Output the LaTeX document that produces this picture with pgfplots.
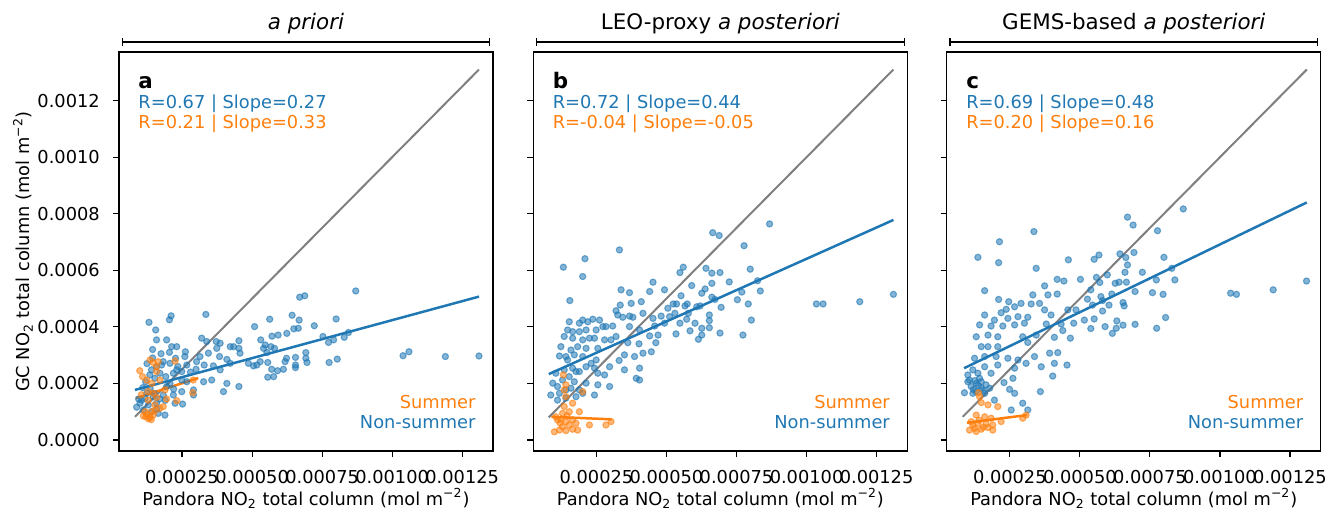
\documentclass[border=0pt]{standalone}
\usepackage{fontspec}
\setmainfont{DejaVu Sans}
\usepackage{pgfplots}
\pgfplotsset{compat=1.18}
\usetikzlibrary{arrows.meta}
\definecolor{tabblue}{HTML}{1F77B4}
\definecolor{taborange}{HTML}{FF7F0E}
\definecolor{linegray}{HTML}{808080}
\newcommand\tickfont{\fontsize{8.9bp}{10.7bp}\selectfont}
\newcommand\titlefont{\fontsize{10.7bp}{12.8bp}\selectfont}

\pgfplotsset{
  every axis title/.style={at={(0.5,1)}, anchor=base, yshift=11bp, font=\titlefont},
  panel/.style={
    scale only axis, width=187bp, height=199.5bp,
    xmin=0.25e-4, xmax=13.6e-4, ymin=-0.39e-4, ymax=13.72e-4,
    xtick={2.5e-4,5e-4,7.5e-4,10e-4,12.5e-4},
    xticklabels={0.00025,0.00050,0.00075,0.00100,0.00125},
    ytick={0,2e-4,4e-4,6e-4,8e-4,10e-4,12e-4},
    tick align=outside, major tick length=3.1bp,
    xtick pos=left, ytick pos=left,
    tick style={black, line width=0.55bp},
    axis line style={black, line width=0.55bp},
    ticklabel style={font=\tickfont, text=black},
    xticklabel style={yshift=-3bp},
    yticklabel style={xshift=-3bp},
    scaled ticks=false,
    clip=false,
  },
  nsDots/.style={only marks, mark=*, mark size=1.55bp,
    mark options={draw=tabblue, fill=tabblue, fill opacity=0.55, draw opacity=0.6, line width=0.55bp}},
  sDots/.style={only marks, mark=*, mark size=1.55bp,
    mark options={draw=taborange, fill=taborange, fill opacity=0.55, draw opacity=0.6, line width=0.55bp}},
  oneone/.style={no marks, linegray, line width=1.0bp},
  nsFit/.style={no marks, tabblue, line width=1.25bp},
  sFit/.style={no marks, taborange, line width=1.25bp},
}

\newcommand\panelextras[3]{%
  \draw[line width=0.6bp, {Bar[width=3.8bp]}-{Bar[width=3.8bp]}]
    ([yshift=5bp]rel axis cs:0.007,1) -- ([yshift=5bp]rel axis cs:0.993,1);
  \node[anchor=base west, font=\titlefont\bfseries, inner sep=0pt] at (rel axis cs:0.051,0.909) {#1};
  \node[anchor=base west, font=\tickfont, text=tabblue, inner sep=0pt] at (rel axis cs:0.051,0.859) {#2};
  \node[anchor=base west, font=\tickfont, text=taborange, inner sep=0pt] at (rel axis cs:0.051,0.809) {#3};
  \node[anchor=base east, font=\tickfont, text=taborange, inner sep=0pt] at (rel axis cs:0.954,0.107) {Summer};
  \node[anchor=base east, font=\tickfont, text=tabblue, inner sep=0pt] at (rel axis cs:0.954,0.057) {Non-summer};
  \node[anchor=base, font=\tickfont, inner sep=0pt] at ([yshift=-27bp]rel axis cs:0.5,0) {Pandora NO\textsubscript{2} total column (mol m\textsuperscript{−2})};
}

\begin{document}
\begin{tikzpicture}
\useasboundingbox (0,0) rectangle (663bp,255bp);

% ---------------- panel a ----------------
\begin{axis}[panel, at={(59.5bp,29.5bp)}, anchor=south west,
  title={\textit{a priori}},
  yticklabels={0.0000,0.0002,0.0004,0.0006,0.0008,0.0010,0.0012}]
\addplot[nsDots] coordinates {
(1.32e-4,4.16e-4) (2.05e-4,4.25e-4) (2.11e-4,4.39e-4) (3.35e-4,4.44e-4) (5.09e-4,4.01e-4)
(5.63e-4,4.27e-4) (6.43e-4,4.41e-4) (6.68e-4,4.24e-4) (6.70e-4,5.05e-4) (6.88e-4,5.10e-4)
(8.70e-4,5.27e-4) (7.22e-4,4.04e-4) (8.00e-4,4.28e-4) (6.24e-4,3.77e-4) (6.49e-4,3.93e-4)
(6.65e-4,3.95e-4) (5.71e-4,3.67e-4) (5.93e-4,3.71e-4) (5.31e-4,3.54e-4) (7.53e-4,3.66e-4)
(7.73e-4,3.45e-4) (7.91e-4,3.54e-4) (8.29e-4,3.63e-4) (8.44e-4,3.80e-4) (10.39e-4,2.98e-4)
(10.60e-4,3.12e-4) (11.90e-4,2.95e-4) (13.10e-4,2.97e-4) (8.04e-4,2.86e-4) (7.75e-4,2.74e-4)
(6.92e-4,3.09e-4) (6.92e-4,2.89e-4) (6.96e-4,2.74e-4) (6.55e-4,2.92e-4) (6.23e-4,2.89e-4)
(6.18e-4,2.77e-4) (6.55e-4,2.65e-4) (6.55e-4,2.56e-4) (6.12e-4,2.50e-4) (5.91e-4,2.45e-4)
(5.70e-4,2.50e-4) (5.56e-4,2.74e-4) (5.80e-4,3.24e-4) (5.53e-4,3.09e-4) (5.41e-4,3.24e-4)
(5.47e-4,3.36e-4) (5.67e-4,3.30e-4) (5.29e-4,2.77e-4) (5.17e-4,2.65e-4) (5.05e-4,2.62e-4)
(4.87e-4,2.71e-4) (5.77e-4,2.24e-4) (5.56e-4,2.22e-4) (4.53e-4,3.51e-4) (4.34e-4,3.30e-4)
(4.22e-4,3.30e-4) (4.57e-4,3.07e-4) (4.53e-4,3.24e-4) (3.86e-4,3.42e-4) (3.72e-4,3.48e-4)
(3.38e-4,3.48e-4) (3.20e-4,3.60e-4) (3.74e-4,3.24e-4) (3.44e-4,3.07e-4) (3.14e-4,2.95e-4)
(3.84e-4,2.95e-4) (4.10e-4,2.85e-4) (3.62e-4,2.62e-4) (3.29e-4,2.65e-4) (3.02e-4,2.77e-4)
(3.86e-4,2.48e-4) (3.56e-4,2.12e-4) (3.27e-4,2.06e-4) (3.98e-4,1.71e-4) (4.53e-4,1.89e-4)
(4.10e-4,2.00e-4) (4.22e-4,2.71e-4) (2.62e-4,3.12e-4) (2.67e-4,2.65e-4) (2.31e-4,3.30e-4)
(2.13e-4,3.30e-4) (1.95e-4,3.54e-4) (1.59e-4,3.54e-4) (1.56e-4,3.89e-4) (2.27e-4,2.89e-4)
(2.07e-4,2.71e-4) (1.83e-4,2.77e-4) (2.49e-4,2.42e-4) (2.49e-4,2.12e-4) (2.67e-4,2.06e-4)
(2.91e-4,1.77e-4) (2.49e-4,1.71e-4) (2.19e-4,1.59e-4) (2.52e-4,1.27e-4) (2.25e-4,1.30e-4)
(1.95e-4,1.89e-4) (1.83e-4,1.59e-4) (1.59e-4,1.30e-4) (1.47e-4,1.53e-4) (1.36e-4,1.83e-4)
(1.24e-4,1.65e-4) (1.06e-4,1.41e-4) (0.88e-4,1.16e-4) (1.12e-4,1.06e-4) (1.41e-4,1.00e-4)
(1.65e-4,0.94e-4) (1.89e-4,0.88e-4) (1.71e-4,2.36e-4) (1.53e-4,2.18e-4) (1.92e-4,2.24e-4)
(2.07e-4,2.00e-4) (1.20e-4,2.06e-4) (1.41e-4,2.48e-4) (1.59e-4,2.59e-4) (1.77e-4,2.65e-4)
(2.19e-4,2.36e-4) (2.31e-4,2.48e-4) (2.91e-4,1.59e-4) (1.00e-4,1.30e-4) (1.18e-4,1.47e-4)
(1.30e-4,1.24e-4) (1.50e-4,1.65e-4) (1.70e-4,1.45e-4) (1.35e-4,2.30e-4) (1.10e-4,1.85e-4)
(0.95e-4,1.45e-4) (1.25e-4,2.70e-4) (1.45e-4,3.20e-4) (1.75e-4,3.05e-4) (2.05e-4,3.10e-4)
(2.35e-4,2.60e-4) (2.80e-4,2.40e-4) (3.00e-4,2.50e-4) (2.60e-4,2.95e-4) (1.60e-4,1.10e-4)
(1.90e-4,1.40e-4) (2.20e-4,1.80e-4) (1.45e-4,2.90e-4)
};
\addplot[sDots] coordinates {
(1.36e-4,2.83e-4) (1.47e-4,2.74e-4) (1.65e-4,2.77e-4) (0.99e-4,2.45e-4) (1.09e-4,2.24e-4)
(1.24e-4,2.12e-4) (1.59e-4,2.42e-4) (1.42e-4,2.00e-4) (1.71e-4,2.12e-4) (2.25e-4,2.79e-4)
(2.90e-4,2.12e-4) (2.88e-4,1.67e-4) (2.31e-4,1.39e-4) (1.89e-4,1.77e-4) (1.47e-4,1.65e-4)
(1.29e-4,1.41e-4) (1.18e-4,1.00e-4) (1.21e-4,0.82e-4) (1.36e-4,0.80e-4) (1.47e-4,0.88e-4)
(1.71e-4,1.12e-4) (1.83e-4,1.18e-4) (1.12e-4,0.85e-4) (1.53e-4,1.24e-4) (1.42e-4,1.00e-4)
(1.59e-4,2.59e-4) (1.29e-4,1.71e-4) (1.30e-4,0.75e-4) (1.25e-4,0.90e-4) (1.40e-4,0.72e-4)
(1.55e-4,1.05e-4) (1.60e-4,1.50e-4) (1.05e-4,1.60e-4) (1.95e-4,1.45e-4)
};
\addplot[oneone] coordinates {(0.82e-4,0.82e-4) (13.10e-4,13.10e-4)};
\addplot[nsFit] coordinates {(0.82e-4,1.77e-4) (13.10e-4,5.07e-4)};
\addplot[sFit] coordinates {(0.85e-4,1.48e-4) (3.08e-4,2.19e-4)};
\panelextras{a}{R=0.67 | Slope=0.27}{R=0.21 | Slope=0.33}
\node[rotate=90, font=\tickfont, anchor=center] at ([xshift=-48bp]rel axis cs:0,0.5) {GC NO\textsubscript{2} total column (mol m\textsuperscript{−2})};
\end{axis}

% ---------------- panel b ----------------
\begin{axis}[panel, at={(266.7bp,29.5bp)}, anchor=south west,
  title={LEO-proxy \textit{a posteriori}},
  yticklabels={}]
\addplot[nsDots] coordinates {
(3.32e-4,6.72e-4) (1.32e-4,6.11e-4) (2.09e-4,6.41e-4) (2.01e-4,5.78e-4) (1.55e-4,4.93e-4)
(3.38e-4,5.31e-4) (3.68e-4,5.21e-4) (4.52e-4,5.58e-4) (4.40e-4,5.25e-4) (4.93e-4,5.31e-4)
(4.10e-4,4.89e-4) (3.74e-4,4.83e-4) (3.35e-4,4.77e-4) (3.20e-4,4.57e-4) (3.26e-4,4.42e-4)
(3.44e-4,4.34e-4) (3.68e-4,4.38e-4) (3.80e-4,4.34e-4) (4.16e-4,4.48e-4) (4.52e-4,4.30e-4)
(4.81e-4,4.38e-4) (5.05e-4,4.66e-4) (5.11e-4,4.36e-4) (4.93e-4,4.13e-4) (4.58e-4,4.03e-4)
(4.04e-4,3.89e-4) (3.68e-4,4.01e-4) (4.40e-4,3.68e-4) (4.70e-4,3.71e-4) (4.62e-4,3.44e-4)
(4.02e-4,3.40e-4) (3.62e-4,3.44e-4) (3.20e-4,3.66e-4) (3.02e-4,3.54e-4) (2.79e-4,3.54e-4)
(2.84e-4,4.01e-4) (3.08e-4,4.03e-4) (2.61e-4,4.24e-4) (2.37e-4,4.27e-4) (2.19e-4,4.18e-4)
(2.49e-4,3.89e-4) (2.73e-4,4.01e-4) (2.13e-4,3.89e-4) (1.89e-4,3.83e-4) (1.53e-4,4.18e-4)
(1.47e-4,3.89e-4) (1.35e-4,3.66e-4) (1.65e-4,3.60e-4) (2.01e-4,3.54e-4) (2.25e-4,3.60e-4)
(2.43e-4,3.60e-4) (1.83e-4,3.30e-4) (2.13e-4,3.24e-4) (2.55e-4,3.24e-4) (1.18e-4,2.97e-4)
(1.41e-4,2.95e-4) (1.71e-4,3.01e-4) (2.01e-4,2.95e-4) (2.31e-4,2.71e-4) (2.49e-4,2.83e-4)
(3.50e-4,3.01e-4) (3.86e-4,2.95e-4) (3.31e-4,2.81e-4) (4.16e-4,3.07e-4) (4.46e-4,3.12e-4)
(3.50e-4,2.48e-4) (4.04e-4,2.54e-4) (3.92e-4,2.18e-4) (4.04e-4,2.12e-4) (2.79e-4,2.30e-4)
(2.55e-4,2.36e-4) (2.97e-4,2.59e-4) (2.43e-4,2.54e-4) (2.13e-4,2.59e-4) (1.89e-4,2.42e-4)
(1.65e-4,2.54e-4) (1.35e-4,2.48e-4) (1.05e-4,2.36e-4) (0.94e-4,2.01e-4) (1.11e-4,1.89e-4)
(0.87e-4,1.59e-4) (1.18e-4,1.65e-4) (1.41e-4,1.77e-4) (1.59e-4,1.83e-4) (1.89e-4,1.77e-4)
(2.13e-4,2.01e-4) (2.55e-4,1.95e-4) (2.97e-4,1.89e-4) (2.43e-4,1.59e-4) (2.01e-4,1.65e-4)
(1.77e-4,1.53e-4) (1.41e-4,1.48e-4) (1.11e-4,1.41e-4) (1.29e-4,2.12e-4) (1.53e-4,2.24e-4)
(1.71e-4,2.06e-4) (1.77e-4,2.42e-4) (1.47e-4,2.83e-4) (1.59e-4,3.18e-4) (1.23e-4,3.30e-4)
(1.89e-4,4.13e-4) (2.01e-4,4.24e-4) (1.65e-4,3.83e-4) (8.68e-4,7.64e-4) (6.65e-4,7.33e-4)
(6.88e-4,7.23e-4) (7.77e-4,6.87e-4) (5.60e-4,6.11e-4) (5.48e-4,5.92e-4) (6.41e-4,6.07e-4)
(6.62e-4,5.90e-4) (6.91e-4,5.92e-4) (6.62e-4,5.54e-4) (7.24e-4,5.59e-4) (7.99e-4,6.04e-4)
(8.25e-4,5.63e-4) (8.35e-4,5.27e-4) (5.90e-4,5.46e-4) (6.38e-4,5.34e-4) (6.26e-4,5.19e-4)
(5.52e-4,5.10e-4) (6.62e-4,5.05e-4) (6.73e-4,4.97e-4) (7.53e-4,4.96e-4) (7.69e-4,5.23e-4)
(7.92e-4,4.81e-4) (6.95e-4,4.69e-4) (5.24e-4,4.81e-4) (5.36e-4,4.81e-4) (5.66e-4,4.74e-4)
(5.74e-4,4.81e-4) (6.08e-4,4.71e-4) (6.20e-4,4.74e-4) (5.30e-4,4.48e-4) (5.78e-4,4.48e-4)
(5.72e-4,4.27e-4) (5.48e-4,4.13e-4) (6.02e-4,4.13e-4) (6.53e-4,4.42e-4) (6.53e-4,4.22e-4)
(6.53e-4,3.97e-4) (6.26e-4,3.95e-4) (5.84e-4,3.86e-4) (5.34e-4,3.75e-4) (6.26e-4,3.71e-4)
(6.14e-4,3.56e-4) (6.91e-4,3.78e-4) (7.73e-4,3.71e-4) (8.03e-4,4.24e-4) (10.35e-4,4.81e-4)
(10.59e-4,4.81e-4) (11.90e-4,4.89e-4) (13.10e-4,5.15e-4)
};
\addplot[sDots] coordinates {
(1.32e-4,2.30e-4) (1.41e-4,1.95e-4) (1.35e-4,1.77e-4) (1.41e-4,1.53e-4) (2.01e-4,1.71e-4)
(1.65e-4,1.30e-4) (1.35e-4,1.18e-4) (1.29e-4,0.94e-4) (1.53e-4,1.00e-4) (1.89e-4,1.00e-4)
(1.05e-4,0.82e-4) (1.23e-4,0.73e-4) (1.41e-4,0.65e-4) (1.65e-4,0.71e-4) (2.25e-4,0.53e-4)
(3.02e-4,0.65e-4) (2.84e-4,0.53e-4) (1.00e-4,0.29e-4) (1.18e-4,0.35e-4) (1.41e-4,0.33e-4)
(1.65e-4,0.38e-4) (1.83e-4,0.35e-4) (1.53e-4,0.53e-4) (1.77e-4,0.59e-4) (1.11e-4,0.71e-4)
(1.29e-4,0.47e-4) (1.45e-4,0.85e-4) (1.20e-4,0.60e-4)
};
\addplot[oneone] coordinates {(0.80e-4,0.80e-4) (13.10e-4,13.10e-4)};
\addplot[nsFit] coordinates {(0.80e-4,2.33e-4) (13.10e-4,7.78e-4)};
\addplot[sFit] coordinates {(0.89e-4,0.82e-4) (3.04e-4,0.73e-4)};
\panelextras{b}{R=0.72 | Slope=0.44}{R=-0.04 | Slope=-0.05}
\end{axis}

% ---------------- panel c ----------------
\begin{axis}[panel, at={(473.4bp,29.5bp)}, anchor=south west,
  title={GEMS-based \textit{a posteriori}},
  yticklabels={}]
\addplot[nsDots] coordinates {
(3.36e-4,7.37e-4) (2.13e-4,7.01e-4) (1.36e-4,6.46e-4) (2.10e-4,6.27e-4) (3.44e-4,6.07e-4)
(4.59e-4,6.37e-4) (1.60e-4,5.28e-4) (4.19e-4,5.68e-4) (4.43e-4,5.62e-4) (5.02e-4,5.68e-4)
(3.74e-4,5.45e-4) (3.32e-4,5.13e-4) (3.86e-4,5.13e-4) (4.19e-4,5.16e-4) (2.10e-4,4.97e-4)
(2.46e-4,4.89e-4) (2.90e-4,4.83e-4) (3.26e-4,4.81e-4) (3.56e-4,4.83e-4) (2.67e-4,4.71e-4)
(2.37e-4,4.62e-4) (2.19e-4,4.50e-4) (3.74e-4,4.60e-4) (4.57e-4,4.60e-4) (4.86e-4,4.60e-4)
(3.97e-4,4.42e-4) (3.14e-4,4.34e-4) (2.79e-4,4.36e-4) (2.43e-4,4.30e-4) (1.95e-4,4.24e-4)
(1.60e-4,4.42e-4) (1.42e-4,4.07e-4) (1.83e-4,4.03e-4) (2.25e-4,4.03e-4) (2.67e-4,4.07e-4)
(3.02e-4,4.13e-4) (3.80e-4,4.10e-4) (4.33e-4,4.10e-4) (4.78e-4,4.13e-4) (5.16e-4,4.24e-4)
(4.39e-4,3.87e-4) (4.66e-4,3.60e-4) (4.09e-4,3.63e-4) (3.44e-4,3.71e-4) (2.96e-4,3.65e-4)
(3.14e-4,3.45e-4) (2.07e-4,3.65e-4) (1.72e-4,3.71e-4) (1.30e-4,3.65e-4) (1.48e-4,3.30e-4)
(1.72e-4,3.30e-4) (2.07e-4,3.30e-4) (1.24e-4,2.89e-4) (1.60e-4,2.95e-4) (2.01e-4,2.95e-4)
(2.43e-4,2.89e-4) (2.79e-4,2.83e-4) (3.38e-4,2.95e-4) (3.92e-4,3.07e-4) (4.21e-4,3.09e-4)
(4.09e-4,2.71e-4) (4.54e-4,2.65e-4) (3.62e-4,2.59e-4) (3.08e-4,2.71e-4) (2.67e-4,2.54e-4)
(2.07e-4,2.65e-4) (1.60e-4,2.59e-4) (1.18e-4,2.48e-4) (1.00e-4,2.30e-4) (1.36e-4,2.36e-4)
(1.83e-4,2.36e-4) (4.03e-4,2.26e-4) (2.61e-4,2.18e-4) (2.29e-4,2.03e-4) (1.00e-4,2.06e-4)
(1.12e-4,1.89e-4) (1.30e-4,2.00e-4) (1.48e-4,2.06e-4) (1.65e-4,1.95e-4) (1.30e-4,1.71e-4)
(1.48e-4,1.83e-4) (1.78e-4,1.83e-4) (0.88e-4,1.67e-4) (1.18e-4,1.65e-4) (1.60e-4,1.65e-4)
(2.49e-4,1.79e-4) (2.67e-4,1.65e-4) (3.59e-4,1.71e-4) (1.95e-4,1.41e-4) (2.96e-4,1.30e-4)
(2.55e-4,1.06e-4) (3.14e-4,1.06e-4) (1.06e-4,2.12e-4) (1.42e-4,2.18e-4) (1.20e-4,1.78e-4)
(1.38e-4,1.92e-4) (1.55e-4,1.75e-4) (1.25e-4,2.10e-4) (8.69e-4,8.17e-4) (6.70e-4,7.88e-4)
(6.90e-4,7.60e-4) (7.77e-4,7.40e-4) (5.68e-4,6.54e-4) (5.51e-4,6.39e-4) (6.43e-4,6.58e-4)
(6.64e-4,6.45e-4) (6.93e-4,6.63e-4) (6.70e-4,6.19e-4) (6.61e-4,5.93e-4) (7.23e-4,5.93e-4)
(8.00e-4,6.46e-4) (8.28e-4,6.07e-4) (8.39e-4,5.66e-4) (7.73e-4,5.66e-4) (5.59e-4,5.75e-4)
(5.98e-4,5.84e-4) (6.40e-4,5.58e-4) (6.66e-4,5.58e-4) (6.26e-4,5.54e-4) (5.71e-4,5.57e-4)
(5.39e-4,5.31e-4) (6.97e-4,5.25e-4) (7.59e-4,5.21e-4) (7.97e-4,5.15e-4) (5.75e-4,5.07e-4)
(6.14e-4,5.16e-4) (5.27e-4,4.98e-4) (5.81e-4,4.93e-4) (6.54e-4,4.86e-4) (6.58e-4,4.74e-4)
(6.04e-4,4.77e-4) (5.45e-4,4.77e-4) (5.81e-4,4.56e-4) (5.51e-4,4.28e-4) (8.06e-4,4.33e-4)
(6.32e-4,4.21e-4) (5.39e-4,3.94e-4) (5.90e-4,4.01e-4) (6.30e-4,3.95e-4) (6.54e-4,4.06e-4)
(6.97e-4,4.09e-4) (6.16e-4,3.77e-4) (7.74e-4,3.95e-4) (10.38e-4,5.19e-4) (10.59e-4,5.15e-4)
(11.90e-4,5.31e-4) (13.09e-4,5.62e-4)
};
\addplot[sDots] coordinates {
(1.38e-4,1.67e-4) (1.42e-4,1.53e-4) (1.48e-4,1.32e-4) (1.72e-4,1.24e-4) (2.07e-4,1.18e-4)
(1.30e-4,0.88e-4) (1.60e-4,0.82e-4) (1.83e-4,0.77e-4) (1.12e-4,0.65e-4) (1.36e-4,0.59e-4)
(1.65e-4,0.57e-4) (1.89e-4,0.53e-4) (1.06e-4,0.35e-4) (1.24e-4,0.41e-4) (1.48e-4,0.38e-4)
(1.72e-4,0.44e-4) (1.89e-4,0.35e-4) (2.96e-4,0.77e-4) (3.08e-4,0.88e-4) (2.19e-4,0.65e-4)
(1.18e-4,0.53e-4) (1.40e-4,0.70e-4) (1.55e-4,0.45e-4) (1.30e-4,0.30e-4)
};
\addplot[oneone] coordinates {(0.82e-4,0.82e-4) (13.10e-4,13.10e-4)};
\addplot[nsFit] coordinates {(0.87e-4,2.54e-4) (13.10e-4,8.40e-4)};
\addplot[sFit] coordinates {(0.97e-4,0.61e-4) (3.11e-4,0.88e-4)};
\panelextras{c}{R=0.69 | Slope=0.48}{R=0.20 | Slope=0.16}
\end{axis}
\end{tikzpicture}
\end{document}
